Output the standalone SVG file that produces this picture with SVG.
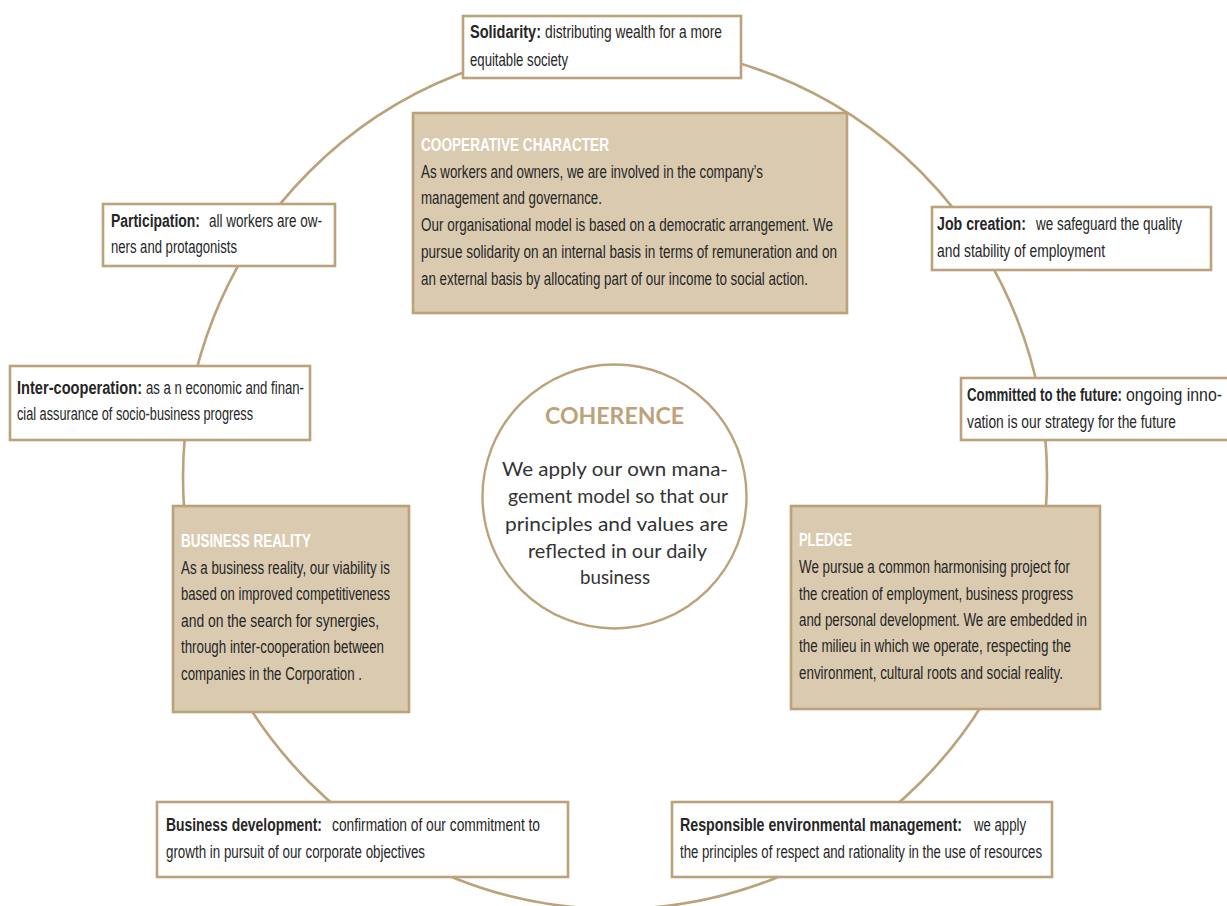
<svg xmlns="http://www.w3.org/2000/svg" width="1227" height="906" viewBox="0 0 1227 906">
<style>
.ring{fill:none;stroke:#bca27a;stroke-width:2.6}
.wbox{fill:#ffffff;stroke:#bca27a;stroke-width:2.6}
.sbox{fill:#dacab0;stroke:#bca27a;stroke-width:2.6}
.ccircle{fill:#ffffff;stroke:#bca27a;stroke-width:2.4}
text{font-family:"Liberation Sans Narrow","Liberation Sans",Arial,sans-serif;font-size:17.5px;fill:#262626}
.b{font-weight:bold}
.t{font-weight:bold;fill:#ffffff}
.ct{font-family:"Lato","Liberation Sans",sans-serif;font-weight:bold;font-size:22px;fill:#bca27a}
.cb{font-family:"Lato","Liberation Sans",sans-serif;font-size:20px;fill:#333333}
</style>
<rect width="1227" height="906" fill="#ffffff"/>
<g id="connectors">
<circle class="ring" cx="615" cy="477" r="432"/>
</g>
<g id="solidarity">
<rect class="wbox" x="463" y="16" width="278" height="62"/>
<text y="38"><tspan class="b" x="470" textLength="71" lengthAdjust="spacingAndGlyphs">Solidarity:</tspan><tspan x="545" textLength="177" lengthAdjust="spacingAndGlyphs">distributing wealth for a more</tspan></text>
<text x="470" y="66" textLength="98" lengthAdjust="spacingAndGlyphs">equitable society</text>
</g>
<g id="cooperative-character">
<rect class="sbox" x="413" y="113" width="434" height="200"/>
<text class="t" x="421" y="151" textLength="188" lengthAdjust="spacingAndGlyphs">COOPERATIVE CHARACTER</text>
<text x="421" y="178" textLength="342" lengthAdjust="spacingAndGlyphs">As workers and owners, we are involved in the company’s</text>
<text x="421" y="204" textLength="181" lengthAdjust="spacingAndGlyphs">management and governance.</text>
<text x="421" y="231" textLength="412" lengthAdjust="spacingAndGlyphs">Our organisational model is based on a democratic arrangement.  We</text>
<text x="421" y="258" textLength="416" lengthAdjust="spacingAndGlyphs">pursue solidarity on an internal basis in terms of remuneration and on</text>
<text x="421" y="285" textLength="387" lengthAdjust="spacingAndGlyphs">an external basis by allocating part of our income to social action.</text>
</g>
<g id="participation">
<rect class="wbox" x="103" y="204" width="232" height="62"/>
<text y="227"><tspan class="b" x="111" textLength="89" lengthAdjust="spacingAndGlyphs">Participation:</tspan><tspan x="209" textLength="113" lengthAdjust="spacingAndGlyphs">all workers are ow-</tspan></text>
<text x="111" y="253" textLength="126" lengthAdjust="spacingAndGlyphs">ners and protagonists</text>
</g>
<g id="job-creation">
<rect class="wbox" x="932" y="207" width="279" height="63"/>
<text y="230"><tspan class="b" x="937" textLength="89" lengthAdjust="spacingAndGlyphs">Job creation:</tspan><tspan x="1036" textLength="146" lengthAdjust="spacingAndGlyphs">we safeguard the quality</tspan></text>
<text x="937" y="257" textLength="168" lengthAdjust="spacingAndGlyphs">and stability of employment</text>
</g>
<g id="inter-cooperation">
<rect class="wbox" x="10" y="366" width="300" height="74"/>
<text y="394"><tspan class="b" x="17" textLength="125" lengthAdjust="spacingAndGlyphs">Inter-cooperation:</tspan><tspan x="146" textLength="158" lengthAdjust="spacingAndGlyphs">as a n economic and finan-</tspan></text>
<text x="17" y="420" textLength="236" lengthAdjust="spacingAndGlyphs">cial assurance of socio-business progress</text>
</g>
<g id="committed">
<rect class="wbox" x="961" y="378" width="272" height="62"/>
<text y="401"><tspan class="b" x="967" textLength="155" lengthAdjust="spacingAndGlyphs">Committed to the future:</tspan><tspan x="1126" textLength="96" lengthAdjust="spacingAndGlyphs">ongoing inno-</tspan></text>
<text x="967" y="428" textLength="209" lengthAdjust="spacingAndGlyphs">vation is our strategy for the future</text>
</g>
<g id="coherence">
<circle class="ccircle" cx="614.5" cy="496.5" r="132"/>
<text class="ct" x="614.5" y="424" text-anchor="middle" textLength="139" lengthAdjust="spacingAndGlyphs">COHERENCE</text>
<text class="cb" x="615" y="476" text-anchor="middle" textLength="226" lengthAdjust="spacingAndGlyphs">We apply our own mana-</text>
<text class="cb" x="618" y="503" text-anchor="middle" textLength="220" lengthAdjust="spacingAndGlyphs">gement model so that our</text>
<text class="cb" x="616.5" y="531" text-anchor="middle" textLength="223" lengthAdjust="spacingAndGlyphs">principles and values are</text>
<text class="cb" x="617.5" y="558" text-anchor="middle" textLength="179" lengthAdjust="spacingAndGlyphs">reflected in our daily</text>
<text class="cb" x="615" y="584" text-anchor="middle" textLength="70" lengthAdjust="spacingAndGlyphs">business</text>
</g>
<g id="business-reality">
<rect class="sbox" x="173" y="506" width="236" height="206"/>
<text class="t" x="181" y="547" textLength="130" lengthAdjust="spacingAndGlyphs">BUSINESS REALITY</text>
<text x="181" y="574" textLength="209" lengthAdjust="spacingAndGlyphs">As a business reality, our viability is</text>
<text x="181" y="600" textLength="209" lengthAdjust="spacingAndGlyphs">based on improved competitiveness</text>
<text x="181" y="627" textLength="198" lengthAdjust="spacingAndGlyphs">and on the search for synergies,</text>
<text x="181" y="653" textLength="203" lengthAdjust="spacingAndGlyphs">through inter-cooperation between</text>
<text x="181" y="680" textLength="181" lengthAdjust="spacingAndGlyphs">companies in the Corporation .</text>
</g>
<g id="pledge">
<rect class="sbox" x="791" y="506" width="309" height="203"/>
<text class="t" x="799" y="546" textLength="53" lengthAdjust="spacingAndGlyphs">PLEDGE</text>
<text x="799" y="573" textLength="271" lengthAdjust="spacingAndGlyphs">We pursue a common harmonising project for</text>
<text x="799" y="600" textLength="274" lengthAdjust="spacingAndGlyphs">the creation of employment, business progress</text>
<text x="799" y="626" textLength="288" lengthAdjust="spacingAndGlyphs">and personal development. We are embedded in</text>
<text x="799" y="652" textLength="272" lengthAdjust="spacingAndGlyphs">the milieu in which we operate, respecting the</text>
<text x="799" y="679" textLength="264" lengthAdjust="spacingAndGlyphs">environment, cultural roots and social reality.</text>
</g>
<g id="business-development">
<rect class="wbox" x="157" y="802" width="411" height="75"/>
<text y="831"><tspan class="b" x="166" textLength="156" lengthAdjust="spacingAndGlyphs">Business development:</tspan><tspan x="332" textLength="208" lengthAdjust="spacingAndGlyphs">confirmation of our commitment to</tspan></text>
<text x="166" y="858" textLength="259" lengthAdjust="spacingAndGlyphs">growth in pursuit of our corporate objectives</text>
</g>
<g id="environmental-management">
<rect class="wbox" x="672" y="802" width="380" height="75"/>
<text y="831"><tspan class="b" x="680" textLength="282" lengthAdjust="spacingAndGlyphs">Responsible environmental management:</tspan><tspan x="974" textLength="52" lengthAdjust="spacingAndGlyphs">we apply</tspan></text>
<text x="680" y="858" textLength="362" lengthAdjust="spacingAndGlyphs">the principles of respect and rationality in the use of resources</text>
</g>
</svg>
